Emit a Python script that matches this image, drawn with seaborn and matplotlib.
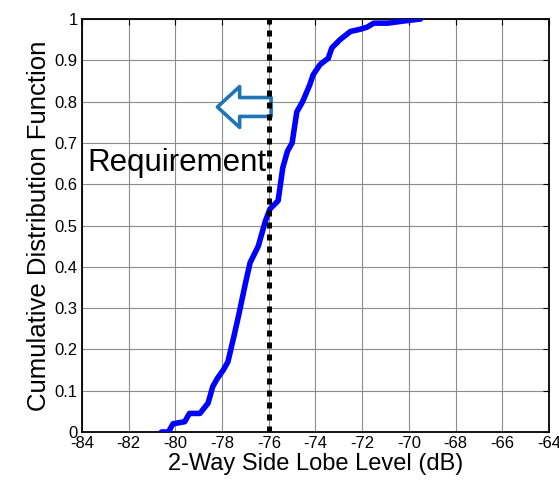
import numpy as np
import pandas as pd
import matplotlib
matplotlib.use('Agg')
import matplotlib.pyplot as plt
import seaborn as sns

# CDF of 2-way side lobe level
sll_db = [-80.6, -80.3, -80.1, -79.6, -79.4, -78.95, -78.6, -78.4, -78.2, -77.95,
          -77.75, -77.5, -77.3, -77.0, -76.8, -76.45, -76.15, -75.95, -75.6, -75.5,
          -75.4, -75.2, -75.0, -74.8, -74.55, -74.25, -74.1, -73.8, -73.45, -73.3,
          -72.95, -72.5, -72.1, -71.8, -71.5, -70.9, -70.25, -69.5]
cdf = [0.0, 0.0, 0.02, 0.025, 0.045, 0.045, 0.07, 0.11, 0.13, 0.15,
       0.17, 0.23, 0.28, 0.36, 0.41, 0.45, 0.51, 0.54, 0.56, 0.60,
       0.64, 0.68, 0.70, 0.775, 0.80, 0.84, 0.865, 0.89, 0.905, 0.93,
       0.95, 0.97, 0.975, 0.98, 0.99, 0.99, 0.995, 1.0]
requirement_db = -76
x_ticks = list(range(-84, -63, 2))
y_ticks = [round(0.1 * i, 1) for i in range(11)]
y_tick_labels = ['0'] + [f'{v:.1f}' for v in y_ticks[1:-1]] + ['1']

df = pd.DataFrame({'sll': sll_db, 'cdf': cdf})

sns.set_style('white')
plt.rcParams['font.family'] = ['Liberation Sans', 'DejaVu Sans']
plt.rcParams['axes.unicode_minus'] = False
plt.rcParams['text.color'] = 'black'
plt.rcParams['axes.labelcolor'] = 'black'
plt.rcParams['xtick.color'] = 'black'
plt.rcParams['ytick.color'] = 'black'

fig = plt.figure(figsize=(5.59, 4.84), dpi=100)
ax = fig.add_axes([0.1467, 0.1074, 0.8353, 0.8533])

ax.grid(True, color='0.55', linewidth=0.8)
ax.set_axisbelow(True)

sns.lineplot(data=df, x='sll', y='cdf', sort=False, color='#0000ff',
             linewidth=4.0, ax=ax, zorder=3)
ax.axvline(requirement_db, color='black', linewidth=3.6,
           linestyle=(0, (1.2, 1.2)), zorder=4)

# "better" arrow and requirement label
ax.annotate('', xy=(-78.2, 0.787), xytext=(-75.9, 0.787),
            arrowprops=dict(arrowstyle='simple,head_length=0.8,head_width=1.47,tail_width=0.68',
                            fc='white', ec='#1f74b8', lw=2.6,
                            shrinkA=0, shrinkB=0, mutation_scale=20))
ax.text(-83.75, 0.632, 'Requirement', fontsize=22.5, ha='left', va='baseline',
        zorder=5)

ax.set_xlim(-84, -64)
ax.set_ylim(0, 1)
ax.set_xticks(x_ticks)
ax.set_yticks(y_ticks)
ax.set_yticklabels(y_tick_labels)
ax.tick_params(direction='in', top=True, right=True, length=4, width=0.8,
               labelsize=12, pad=3)
for s in ax.spines.values():
    s.set_visible(True)
    s.set_color('black')
    s.set_linewidth(1.3)

ax.set_xlabel('2-Way Side Lobe Level (dB)', fontsize=17, labelpad=1)
ax.set_ylabel('Cumulative Distribution Function', fontsize=18.5, labelpad=3)

fig.savefig('out.png', dpi=100)
